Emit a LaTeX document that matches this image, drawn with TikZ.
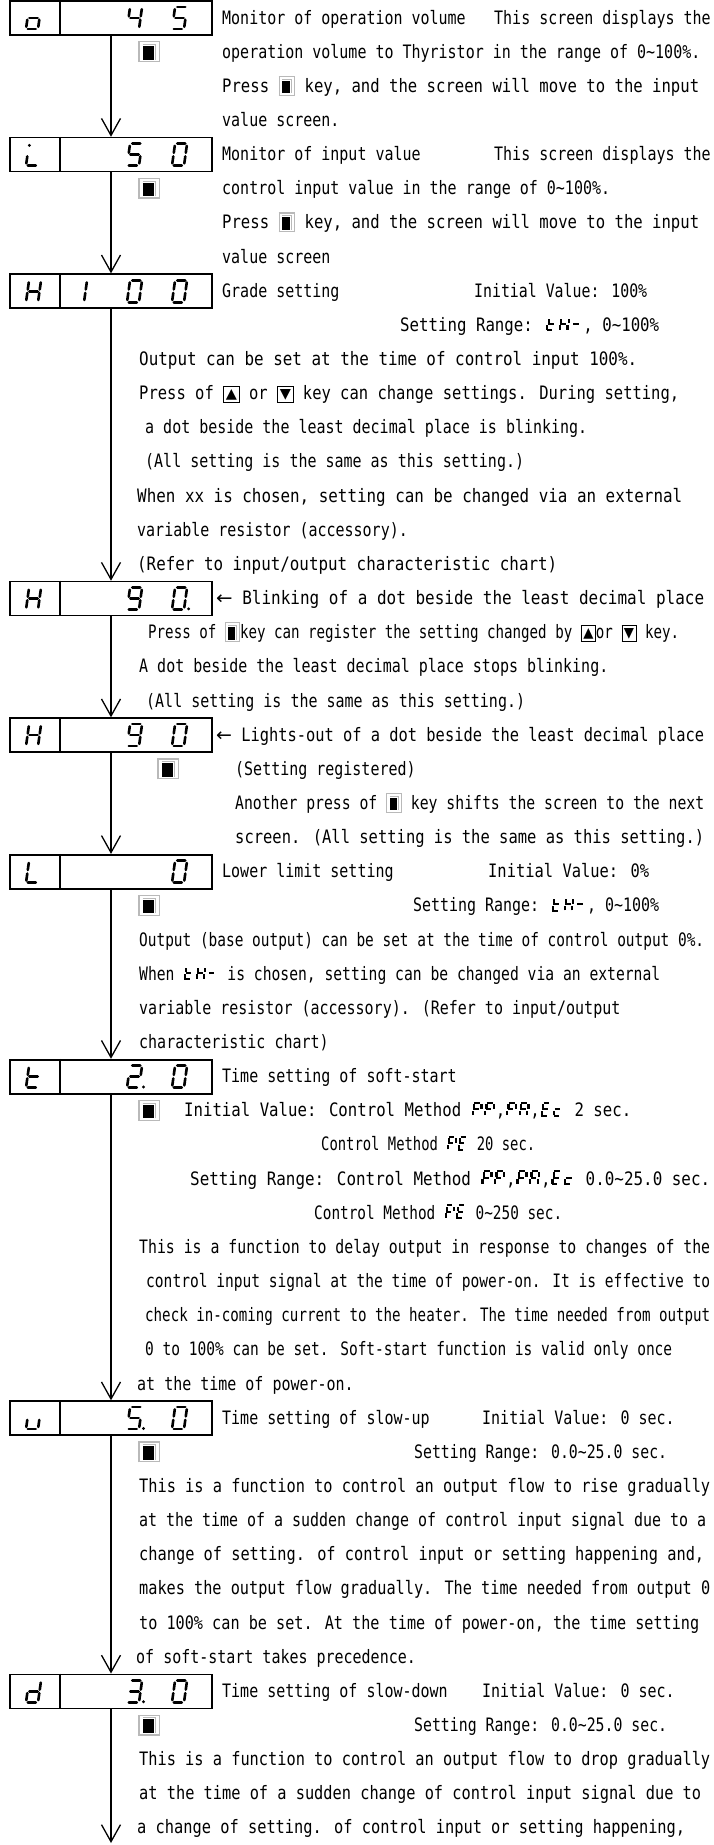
\documentclass[tikz,border=0pt]{standalone}
\usepackage{fontspec}
\setmainfont{DejaVu Sans Mono}[FakeStretch=0.81]
\newfontfamily\symfont{DejaVu Sans}
\usepackage{graphicx}
\usetikzlibrary{arrows.meta}
\setlength\unitlength{1pt}
\newcommand\tfont{\fontsize{18.5}{20}\selectfont}
\newcommand\wv{\textasciitilde}
% inline 7-segment glyphs
\newcommand\sga{\put(3.4,13){\rule{5.4pt}{2.1pt}}}
\newcommand\sgf{\put(1.9,8.3){\rule{2.1pt}{4.4pt}}}
\newcommand\sgb{\put(9.1,8.3){\rule{2.1pt}{4.4pt}}}
\newcommand\sgg{\put(2.2,6.5){\rule{5.4pt}{2.1pt}}}
\newcommand\sge{\put(0.7,1.6){\rule{2.1pt}{4.4pt}}}
\newcommand\sgc{\put(7.9,1.6){\rule{2.1pt}{4.4pt}}}
\newcommand\sgd{\put(1.0,0){\rule{5.4pt}{2.1pt}}}
\newcommand\gly[1]{\begin{picture}(12,15)#1\end{picture}}
\newcommand\syH{\gly{\sgf\sgg\sge\sgd}\gly{\sgf\sgb\sgg\sge\sgc}\gly{\sgg}}
\newcommand\syP{\gly{\sga\sgf\sgb\sgg\sge}}
\newcommand\syR{\gly{\sga\sgf\sgb\sgg\sge\sgc}}
\newcommand\syE{\gly{\sga\sgf\sgg\sge\sgd}}
\newcommand\syc{\gly{\sgg\sge\sgd}}
% key icons (inline and stand-alone)
\newcommand\keyi{\raisebox{-3.5pt}{\begin{picture}(16,20)%
\color{gray!55}\put(0,0){\rule{16pt}{1.2pt}}\put(0,18.8){\rule{16pt}{1.2pt}}%
\put(0,0){\rule{1.2pt}{20pt}}\put(14.8,0){\rule{1.2pt}{20pt}}%
\put(3.3,16.2){\rule{9.5pt}{0.9pt}}\put(12,2.6){\rule{0.9pt}{14.5pt}}%
\color{black}\put(3.3,2.6){\rule{7.8pt}{12.6pt}}\end{picture}}}
\newcommand\keyb{\raisebox{-4pt}{\begin{picture}(22,21)%
\color{gray!55}\put(0,0){\rule{22pt}{1.3pt}}\put(0,19.7){\rule{22pt}{1.3pt}}%
\put(0,0){\rule{1.3pt}{21pt}}\put(20.7,0){\rule{1.3pt}{21pt}}%
\put(4.5,17.2){\rule{13.3pt}{1pt}}\put(16.8,2.5){\rule{1pt}{15.7pt}}%
\color{black}\put(4.5,2.5){\rule{11pt}{13.6pt}}\end{picture}}}
\newcommand\kframe{\put(0,0){\rule{16pt}{0.8pt}}\put(0,16.2){\rule{16pt}{0.8pt}}%
\put(0,0){\rule{0.8pt}{17pt}}\put(15.2,0){\rule{0.8pt}{17pt}}}
\newcommand\upk{\raisebox{-3pt}{\begin{picture}(16,17)\kframe
\put(8,2){\makebox(0,0)[b]{\symfont\fontsize{14}{14}\selectfont ▲}}\end{picture}}}
\newcommand\dnk{\raisebox{-3pt}{\begin{picture}(16,17)\kframe
\put(8,2){\makebox(0,0)[b]{\symfont\fontsize{14}{14}\selectfont ▼}}\end{picture}}}
% seven segment digits in the display boxes
\newcommand\zseg[4]{\draw[segl] ({\gx+(#1)*\gw+(#2)*\gh*0.14},{\gy-(#2)*\gh}) -- ({\gx+(#3)*\gw+(#4)*\gh*0.14},{\gy-(#4)*\gh});}
\newcommand\zsa{\zseg{0.18}{1}{0.85}{1}}
\newcommand\zsb{\zseg{1}{0.9}{1}{0.58}}
\newcommand\zsc{\zseg{1}{0.42}{1}{0.1}}
\newcommand\zsd{\zseg{0.15}{0}{0.82}{0}}
\newcommand\zse{\zseg{0}{0.42}{0}{0.1}}
\newcommand\zsf{\zseg{0}{0.9}{0}{0.58}}
\newcommand\zsg{\zseg{0.15}{0.5}{0.85}{0.5}}
\newcommand\zsp{\fill ({\gx+1.38*\gw},{\gy-0.03*\gh}) circle (1.6);}
\newcommand\zsi{\fill ({\gx+0.05*\gw+0.92*\gh*0.14},{\gy-0.92*\gh}) circle (1.6);}
\newcommand\sev[3]{\def\gx{#1}\def\gy{#2}\def\gw{12}\def\gh{22}%
\foreach \q in {#3}{\csname zs\q\endcsname}}
\newcommand\dbox[2]{\node[dispbox] (#1) at (111,{18+34.15*#2}) {};
\draw[boxl] ([xshift=51pt]#1.north west) -- ([xshift=51pt]#1.south west);}
\newcommand\tl[4]{\node[txt] (#1) at (#2,{24+34.15*#3}) {#4};}
\newcommand\tf[5]{\node[txt] (#1) at (#2,{24+34.15*#4}) {\resizebox{#3pt}{\height}{#5}};}
\begin{document}
\begin{tikzpicture}[x=1pt,y=-1pt,
 dispbox/.style={draw,line width=1.7pt,minimum width=202pt,minimum height=34pt,inner sep=0pt},
 boxl/.style={line width=1.5pt},
 segl/.style={line width=2.6pt,line cap=round},
 flow/.style={line width=1.3pt,-{Straight Barb[length=17pt,width=19pt,line width=1.3pt]}},
 txt/.style={anchor=base west,inner sep=0pt,font=\tfont}]
\useasboundingbox (0,0) rectangle (714,1845);
% display boxes
\dbox{b1}{0}\dbox{b2}{4}\dbox{b3}{8}\dbox{b4}{17}\dbox{b5}{21}
\dbox{b6}{25}\dbox{b7}{31}\dbox{b8}{41}\dbox{b9}{49}
% box contents
\sev{26}{29+34.15*0}{c,d,e,g}\sev{127}{29+34.15*0}{f,g,b,c}\sev{172}{29+34.15*0}{a,f,g,c,d}
\sev{26}{29+34.15*4}{i,e,d}\sev{127}{29+34.15*4}{a,f,g,c,d}\sev{172}{29+34.15*4}{a,b,c,d,e,f}
\sev{26}{29+34.15*8}{b,c,e,f,g}\sev{72}{29+34.15*8}{b,c}\sev{127}{29+34.15*8}{a,b,c,d,e,f}\sev{172}{29+34.15*8}{a,b,c,d,e,f}
\sev{26}{29+34.15*17}{b,c,e,f,g}\sev{127}{29+34.15*17}{a,b,c,d,f,g}\sev{172}{29+34.15*17}{a,b,c,d,e,f,p}
\sev{26}{29+34.15*21}{b,c,e,f,g}\sev{127}{29+34.15*21}{a,b,c,d,f,g}\sev{172}{29+34.15*21}{a,b,c,d,e,f}
\sev{26}{29+34.15*25}{f,e,d}\sev{172}{29+34.15*25}{a,b,c,d,e,f}
\sev{26}{29+34.15*31}{f,e,g,d}\sev{127}{29+34.15*31}{a,b,g,e,d,p}\sev{172}{29+34.15*31}{a,b,c,d,e,f}
\sev{26}{29+34.15*41}{e,c,d}\sev{127}{29+34.15*41}{a,f,g,c,d,p}\sev{172}{29+34.15*41}{a,b,c,d,e,f}
\sev{26}{29+34.15*49}{b,c,d,e,g}\sev{127}{29+34.15*49}{a,b,g,c,d,p}\sev{172}{29+34.15*49}{a,b,c,d,e,f}
% flow
\coordinate (e9) at (111,1843);
\draw[flow] (b1.south) -- (b2.north);
\draw[flow] (b2.south) -- (b3.north);
\draw[flow] (b3.south) -- (b4.north);
\draw[flow] (b4.south) -- (b5.north);
\draw[flow] (b5.south) -- (b6.north);
\draw[flow] (b6.south) -- (b7.north);
\draw[flow] (b7.south) -- (b8.north);
\draw[flow] (b8.south) -- (b9.north);
\draw[flow] (b9.south) -- (e9);
% key icons below boxes
\tl{k1}{138}{1}{\keyb}
\tl{k5}{138}{5}{\keyb}
\tl{k22}{157}{22}{\keyb}
\tl{k26}{138}{26}{\keyb}
\tl{k32}{138}{32}{\keyb}
\tl{k42}{138}{42}{\keyb}
\tl{k50}{138}{50}{\keyb}
% texts
\tl{t0a}{222}{0}{Monitor of operation volume}
\tl{t0b}{494}{0}{This screen displays the}
\tl{t1}{222}{1}{operation volume to Thyristor in the range of 0\wv100\%.}
\tf{t2}{222}{477}{2}{Press \keyi\ key, and the screen will move to the input}
\tl{t3}{222}{3}{value screen.}
\tl{t4a}{222}{4}{Monitor of input value}
\tl{t4b}{494}{4}{This screen displays the}
\tl{t5}{222}{5}{control input value in the range of 0\wv100\%.}
\tf{t6}{222}{477}{6}{Press \keyi\ key, and the screen will move to the input}
\tl{t7}{222}{7}{value screen}
\tl{t8a}{222}{8}{Grade setting}
\tf{t8b}{474}{173}{8}{Initial Value: 100\%}
\tf{t9}{400}{259}{9}{Setting Range: \syH, 0\wv100\%}
\tf{t10}{139}{498}{10}{Output can be set at the time of control input 100\%.}
\tf{t11}{139}{540}{11}{Press of \upk\ or \dnk\ key can change settings. During setting,}
\tl{t12}{145}{12}{a dot beside the least decimal place is blinking.}
\tl{t13}{145}{13}{(All setting is the same as this setting.)}
\tf{t14}{137}{545}{14}{When xx is chosen, setting can be changed via an external}
\tl{t15}{137}{15}{variable resistor (accessory).}
\tf{t16}{137}{420}{16}{(Refer to input/output characteristic chart)}
\tf{t17}{216}{488}{17}{{\symfont ←} Blinking of a dot beside the least decimal place}
\tf{t18}{148}{531}{18}{Press of \keyi key can register the setting changed by \upk or \dnk\ key.}
\tl{t19}{139}{19}{A dot beside the least decimal place stops blinking.}
\tl{t20}{146}{20}{(All setting is the same as this setting.)}
\tf{t21}{216}{488}{21}{{\symfont ←} Lights-out of a dot beside the least decimal place}
\tl{t22}{235}{22}{(Setting registered)}
\tf{t23}{235}{469}{23}{Another press of \keyi\ key shifts the screen to the next}
\tf{t24}{235}{469}{24}{screen. (All setting is the same as this setting.)}
\tl{t25a}{222}{25}{Lower limit setting}
\tf{t25b}{488}{161}{25}{Initial Value: 0\%}
\tf{t26}{413}{246}{26}{Setting Range: \syH, 0\wv100\%}
\tf{t27}{139}{565}{27}{Output (base output) can be set at the time of control output 0\%.}
\tf{t28}{139}{521}{28}{When \syH\ is chosen, setting can be changed via an external}
\tl{t29}{139}{29}{variable resistor (accessory). (Refer to input/output}
\tl{t30}{139}{30}{characteristic chart)}
\tl{t31}{222}{31}{Time setting of soft-start}
\tf{t32}{184}{447}{32}{Initial Value: Control Method \syP\syP,\syP\syR,\syE\syc\ 2 sec.}
\tf{t33}{321}{214}{33}{Control Method \syP\syE\ 20 sec.}
\tf{t34}{190}{520}{34}{Setting Range: Control Method \syP\syP,\syP\syR,\syE\syc\ 0.0\wv25.0 sec.}
\tf{t35}{314}{248}{35}{Control Method \syP\syE\ 0\wv250 sec.}
\tf{t36}{139}{571}{36}{This is a function to delay output in response to changes of the}
\tf{t37}{146}{564}{37}{control input signal at the time of power-on. It is effective to}
\tf{t38}{145}{565}{38}{check in-coming current to the heater. The time needed from output}
\tf{t39}{145}{527}{39}{0 to 100\% can be set. Soft-start function is valid only once}
\tl{t40}{137}{40}{at the time of power-on.}
\tl{t41a}{222}{41}{Time setting of slow-up}
\tl{t41b}{482}{41}{Initial Value: 0 sec.}
\tf{t42}{414}{253}{42}{Setting Range: 0.0\wv25.0 sec.}
\tf{t43}{139}{571}{43}{This is a function to control an output flow to rise gradually}
\tf{t44}{139}{567}{44}{at the time of a sudden change of control input signal due to a}
\tf{t45}{139}{565}{45}{change of setting. of control input or setting happening and,}
\tf{t46}{139}{571}{46}{makes the output flow gradually. The time needed from output 0}
\tf{t47}{139}{560}{47}{to 100\% can be set. At the time of power-on, the time setting}
\tl{t48}{136}{48}{of soft-start takes precedence.}
\tl{t49a}{222}{49}{Time setting of slow-down}
\tl{t49b}{482}{49}{Initial Value: 0 sec.}
\tf{t50}{414}{253}{50}{Setting Range: 0.0\wv25.0 sec.}
\tf{t51}{139}{571}{51}{This is a function to control an output flow to drop gradually}
\tf{t52}{139}{562}{52}{at the time of a sudden change of control input signal due to}
\tf{t53}{137}{548}{53}{a change of setting. of control input or setting happening,}
\end{tikzpicture}
\end{document}
